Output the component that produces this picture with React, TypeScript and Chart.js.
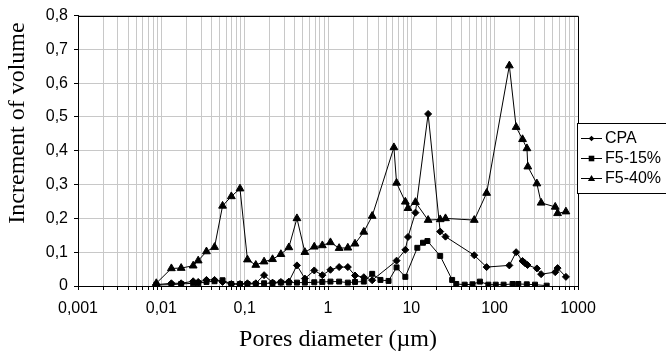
import React, { useEffect, useRef } from "react";
import { Chart, registerables } from "chart.js";

Chart.register(...registerables);

const seriesNames = ["CPA", "F5-15%", "F5-40%"];
const xTitle = "Pores diameter (µm)";
const yTitle = "Increment of volume";

const cpaX = [0.0087, 0.0132, 0.0173, 0.0241, 0.0277, 0.0348, 0.0435, 0.0543, 0.0692, 0.0879, 0.108, 0.136, 0.171, 0.216, 0.272, 0.339, 0.424, 0.528, 0.684, 0.855, 1.07, 1.36, 1.73, 2.11, 2.69, 3.39, 6.65, 8.47, 9.12, 11.2, 15.9, 22.2, 25.7, 56.9, 80.1, 150, 181, 216, 230, 248, 321, 361, 533, 569, 716];
const cpaY = [0.004, 0.008, 0.008, 0.014, 0.012, 0.018, 0.018, 0.012, 0.006, 0.006, 0.008, 0.008, 0.032, 0.01, 0.012, 0.013, 0.061, 0.022, 0.046, 0.032, 0.048, 0.056, 0.056, 0.031, 0.026, 0.017, 0.075, 0.107, 0.145, 0.217, 0.509, 0.161, 0.146, 0.091, 0.056, 0.061, 0.1, 0.074, 0.068, 0.062, 0.052, 0.035, 0.041, 0.053, 0.027];

const f15X = [0.0087, 0.0132, 0.0173, 0.0241, 0.0277, 0.0348, 0.0435, 0.0543, 0.0692, 0.0879, 0.108, 0.136, 0.171, 0.216, 0.272, 0.339, 0.424, 0.528, 0.684, 0.855, 1.07, 1.36, 1.73, 2.11, 2.69, 3.39, 4.26, 5.33, 6.65, 8.47, 11.8, 13.8, 15.6, 22.2, 30.9, 34.6, 43.7, 54.3, 66.5, 84, 103, 128, 164, 192, 243, 305, 421];
const f15Y = [0.003, 0.004, 0.006, 0.008, 0.008, 0.012, 0.014, 0.017, 0.006, 0.006, 0.006, 0.006, 0.008, 0.008, 0.01, 0.01, 0.01, 0.01, 0.011, 0.012, 0.013, 0.013, 0.01, 0.012, 0.013, 0.036, 0.018, 0.015, 0.055, 0.027, 0.113, 0.128, 0.133, 0.089, 0.018, 0.006, 0.004, 0.005, 0.013, 0.004, 0.004, 0.004, 0.006, 0.006, 0.005, 0.004, 0.001];

const f40X = [0.0087, 0.0132, 0.0173, 0.0241, 0.0277, 0.0348, 0.0435, 0.0543, 0.0692, 0.0879, 0.108, 0.136, 0.171, 0.216, 0.272, 0.339, 0.424, 0.528, 0.684, 0.855, 1.07, 1.36, 1.73, 2.11, 2.69, 3.39, 6.18, 6.65, 8.47, 9.12, 11.2, 15.9, 22.2, 25.7, 56.9, 80.1, 150, 181, 216, 244, 250, 321, 361, 533, 569, 716];
const f40Y = [0.008, 0.052, 0.053, 0.06, 0.075, 0.102, 0.115, 0.237, 0.265, 0.288, 0.078, 0.062, 0.072, 0.079, 0.094, 0.114, 0.2, 0.1, 0.116, 0.12, 0.129, 0.112, 0.113, 0.125, 0.16, 0.207, 0.41, 0.305, 0.249, 0.23, 0.248, 0.195, 0.197, 0.2, 0.195, 0.275, 0.652, 0.47, 0.434, 0.407, 0.353, 0.303, 0.246, 0.234, 0.215, 0.22];

const xDecades = [0.001, 0.01, 0.1, 1, 10, 100, 1000];
const xTickLabels = ["0,001", "0,01", "0,1", "1", "10", "100", "1000"];
const yTickLabels = ["0", "0,1", "0,2", "0,3", "0,4", "0,5", "0,6", "0,7", "0,8"];

const markerStyles = ["rectRot", "rect", "triangle"];
const markerRadii = [3.5, 3.5, 4.5];

const zip = (xs: number[], ys: number[]) => xs.map((x, i) => ({ x, y: ys[i] }));

export default function App() {
  const ref = useRef<HTMLCanvasElement>(null);

  useEffect(() => {
    if (!ref.current) return;
    const allTicks: number[] = [];
    for (let d = 0; d < xDecades.length - 1; d++) {
      for (let m = 1; m <= 9; m++) allTicks.push(xDecades[d] * m);
    }
    allTicks.push(xDecades[xDecades.length - 1]);

    const frameLegend = {
      id: "frameLegend",
      afterDraw(chart: any) {
        const ctx = chart.ctx;
        const a = chart.chartArea;
        ctx.save();
        ctx.strokeStyle = "#000";
        ctx.lineWidth = 1;
        ctx.beginPath();
        ctx.moveTo(Math.round(a.left) + 0.5, Math.round(a.top) + 0.5);
        ctx.lineTo(Math.round(a.right) + 0.5, Math.round(a.top) + 0.5);
        ctx.lineTo(Math.round(a.right) + 0.5, Math.round(a.bottom) + 0.5);
        ctx.stroke();

        // axis titles
        ctx.fillStyle = "#000";
        ctx.font = "24px 'Liberation Serif', 'Times New Roman', serif";
        ctx.textAlign = "center";
        ctx.textBaseline = "middle";
        ctx.fillText(xTitle, 338, 340);
        ctx.save();
        ctx.translate(18, 123);
        ctx.rotate(-Math.PI / 2);
        ctx.fillText(yTitle, 0, 0);
        ctx.restore();

        // legend
        const lx = 577.5, ly = 123.5, lw = 92, lh = 70;
        ctx.fillStyle = "#fff";
        ctx.fillRect(lx, ly, lw, lh);
        ctx.strokeRect(lx, ly, lw, lh);
        ctx.font = "16px 'Liberation Sans', Arial, sans-serif";
        ctx.textBaseline = "middle";
        ctx.textAlign = "left";
        seriesNames.forEach((name, i) => {
          const y = 138 + i * 20;
          ctx.strokeStyle = "#000";
          ctx.beginPath();
          ctx.moveTo(581, y + 0.5);
          ctx.lineTo(602, y + 0.5);
          ctx.stroke();
          const r = markerRadii[i] * 0.8;
          ctx.fillStyle = "#000";
          ctx.beginPath();
          if (i === 0) {
            ctx.moveTo(591.5, y + 0.5 - r);
            ctx.lineTo(591.5 + r, y + 0.5);
            ctx.lineTo(591.5, y + 0.5 + r);
            ctx.lineTo(591.5 - r, y + 0.5);
          } else if (i === 1) {
            ctx.rect(591.5 - r, y + 0.5 - r, 2 * r, 2 * r);
          } else {
            ctx.moveTo(591.5, y + 0.5 - r);
            ctx.lineTo(591.5 + r, y + 0.5 + r * 0.7);
            ctx.lineTo(591.5 - r, y + 0.5 + r * 0.7);
          }
          ctx.closePath();
          ctx.fill();
          ctx.fillText(name, 605, y + 1);
        });
        ctx.restore();
      },
    };

    const datasets = [zip(cpaX, cpaY), zip(f15X, f15Y), zip(f40X, f40Y)].map((data, i) => ({
      label: seriesNames[i],
      data,
      borderColor: "#000",
      backgroundColor: "#000",
      borderWidth: 1,
      pointStyle: markerStyles[i] as any,
      pointRadius: markerRadii[i],
      pointBorderWidth: 1,
      pointBorderColor: "#000",
      pointBackgroundColor: "#000",
      tension: 0,
    }));

    const chart = new Chart(ref.current, {
      type: "line",
      data: { datasets },
      plugins: [frameLegend],
      options: {
        animation: false,
        responsive: false,
        devicePixelRatio: 1,
        layout: { padding: { left: 0, right: 88, top: 12, bottom: 0 } },
        plugins: { legend: { display: false }, tooltip: { enabled: false } },
        scales: {
          x: {
            type: "logarithmic",
            min: 0.001,
            max: 1000,
            afterBuildTicks: (axis: any) => {
              axis.ticks = allTicks.map((v) => ({ value: v, major: xDecades.includes(v) }));
            },
            afterFit: (axis: any) => {
              axis.height = 70;
            },
            ticks: {
              autoSkip: false,
              maxRotation: 0,
              minRotation: 0,
              color: "#000",
              padding: 9,
              font: { family: "'Liberation Sans', Arial, sans-serif", size: 16 },
              callback: (value: any) => {
                const idx = xDecades.findIndex((d) => Math.abs(d - value) / d < 1e-6);
                return idx >= 0 ? xTickLabels[idx] : "";
              },
            },
            grid: {
              color: "#c8c8c8",
              lineWidth: 1,
              tickColor: "#000",
              tickLength: 4,
            },
            border: { color: "#000", width: 1 },
            title: { display: false },
          },
          y: {
            type: "linear",
            min: 0,
            max: 0.8,
            afterFit: (axis: any) => {
              axis.width = 78;
            },
            ticks: {
              stepSize: 0.1,
              color: "#000",
              padding: 6,
              font: { family: "'Liberation Sans', Arial, sans-serif", size: 16 },
              callback: (value: any) => yTickLabels[Math.round(Number(value) * 10)] ?? "",
            },
            grid: {
              color: "#c8c8c8",
              lineWidth: 1,
              tickColor: "#000",
              tickLength: 4,
            },
            border: { color: "#000", width: 1 },
            title: { display: false },
          },
        },
      },
    });
    return () => chart.destroy();
  }, []);

  return (
    <div style={{ position: "fixed", left: 0, top: 0, width: 666, height: 356, background: "#fff" }}>
      <canvas ref={ref} width={666} height={356} style={{ width: 666, height: 356, display: "block" }} />
    </div>
  );
}
